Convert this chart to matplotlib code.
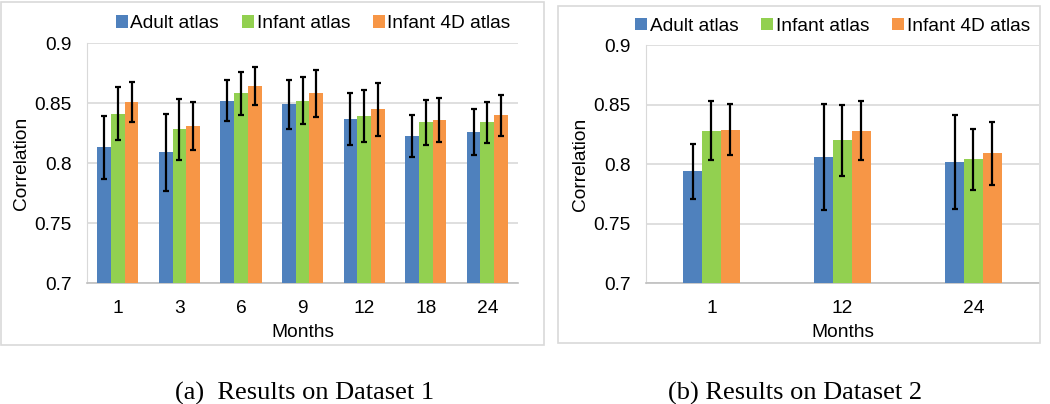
import numpy as np
import matplotlib
matplotlib.use("Agg")
import matplotlib.pyplot as plt
from matplotlib.patches import Rectangle

plt.rcParams['font.family'] = ['Liberation Sans', 'DejaVu Sans']

series = ["Adult atlas", "Infant atlas", "Infant 4D atlas"]
colors = ["#4F81BD", "#92D050", "#F79646"]

# Dataset 1
months1 = ["1", "3", "6", "9", "12", "18", "24"]
adult1 = [0.813, 0.809, 0.852, 0.849, 0.837, 0.8225, 0.826]
infant1 = [0.841, 0.828, 0.858, 0.852, 0.839, 0.834, 0.834]
infant4d1 = [0.851, 0.831, 0.864, 0.858, 0.845, 0.836, 0.840]
adult1_err = [0.0265, 0.032, 0.0174, 0.0206, 0.0217, 0.0175, 0.0192]
infant1_err = [0.022, 0.0257, 0.0176, 0.0196, 0.0217, 0.0189, 0.017]
infant4d1_err = [0.0168, 0.020, 0.016, 0.0196, 0.0221, 0.0183, 0.0171]

# Dataset 2
months2 = ["1", "12", "24"]
adult2 = [0.794, 0.806, 0.802]
infant2 = [0.828, 0.820, 0.804]
infant4d2 = [0.829, 0.828, 0.809]
adult2_err = [0.0232, 0.0447, 0.0394]
infant2_err = [0.0247, 0.0299, 0.0256]
infant4d2_err = [0.0216, 0.0246, 0.0265]

FS = 13.8


def draw(ax, months, vals, errs, width, legend_x):
    x = np.arange(len(months))
    for i, (v, e) in enumerate(zip(vals, errs)):
        ax.bar(x + (i - 1) * width, v, width, color=colors[i], label=series[i],
               yerr=e, error_kw=dict(ecolor="black", elinewidth=1.6,
                                     capsize=2.2, capthick=1.6), zorder=3)
    ax.set_ylim(0.7, 0.9)
    ax.set_yticks([0.7, 0.75, 0.8, 0.85, 0.9])
    ax.set_yticklabels(["0.7", "0.75", "0.8", "0.85", "0.9"])
    ax.set_xlim(-0.5, len(months) - 0.5)
    ax.set_xticks(x)
    ax.set_xticklabels(months)
    ax.tick_params(length=0, labelsize=FS, pad=12)
    ax.tick_params(axis="y", pad=11)
    ax.grid(axis="y", color="#D9D9D9", linewidth=1.2, zorder=0)
    for s in ["top", "right"]:
        ax.spines[s].set_visible(False)
    ax.spines["left"].set_color("#D9D9D9")
    ax.spines["bottom"].set_color("#BFBFBF")
    ax.spines["bottom"].set_linewidth(1.2)
    ax.set_xlabel("Months", fontsize=FS, labelpad=5)
    ax.set_ylabel("Correlation", fontsize=FS, labelpad=3)
    ax.legend(loc="center", bbox_to_anchor=(legend_x, 1.08), ncol=3,
              frameon=False, fontsize=FS, handlelength=0.6, handleheight=0.6,
              handletextpad=0.15, columnspacing=1.2, borderaxespad=0)


fig = plt.figure(figsize=(10.5, 4.04), dpi=100)

ax1 = fig.add_axes([0.0829, 0.2995, 0.4105, 0.594])
draw(ax1, months1, [adult1, infant1, infant4d1],
     [adult1_err, infant1_err, infant4d1_err], 0.223, 0.525)

ax2 = fig.add_axes([0.6152, 0.2995, 0.3743, 0.589])
draw(ax2, months2, [adult2, infant2, infant4d2],
     [adult2_err, infant2_err, infant4d2_err], 0.143, 0.475)

# chart borders
fig.patches.append(Rectangle((1 / 1050, 59 / 404), 543 / 1050, 343 / 404,
                             transform=fig.transFigure, fill=False,
                             edgecolor="#D9D9D9", linewidth=1.2))
fig.patches.append(Rectangle((558 / 1050, 61 / 404), 482 / 1050, 337 / 404,
                             transform=fig.transFigure, fill=False,
                             edgecolor="#D9D9D9", linewidth=1.2))

fig.text(305 / 1050, 11 / 404, "(a)  Results on Dataset 1", ha="center", va="center",
         fontsize=19, family="Liberation Serif")
fig.text(795 / 1050, 11 / 404, "(b) Results on Dataset 2", ha="center", va="center",
         fontsize=19, family="Liberation Serif")

fig.savefig("out.png", dpi=100)
